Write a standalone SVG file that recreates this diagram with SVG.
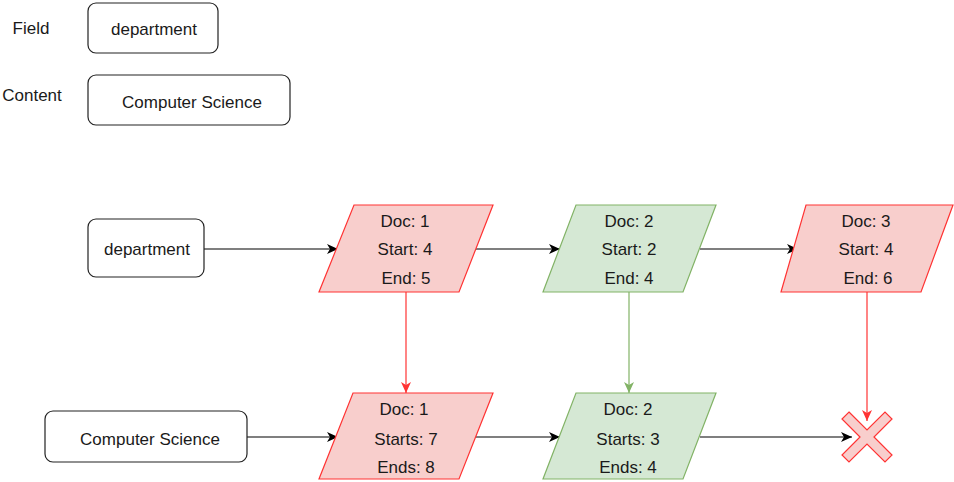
<svg xmlns="http://www.w3.org/2000/svg" width="954" height="482" viewBox="0 0 954 482">
  <style>
    text { font-family: "Liberation Sans", Arial, sans-serif; font-size: 17px; fill: #1a1a1a; text-anchor: middle; dominant-baseline: central; }
    .box { fill: #fff; stroke: #222; stroke-width: 1.2; }
    .red { fill: #f8cecc; stroke: #ff3333; stroke-width: 1.2; }
    .green { fill: #d5e8d4; stroke: #82b366; stroke-width: 1.2; }
    .edge { fill: none; stroke: #000; stroke-width: 1.2; }
    .edge-red { fill: none; stroke: #ff3333; stroke-width: 1.2; }
    .edge-green { fill: none; stroke: #82b366; stroke-width: 1.2; }
  </style>
  <defs>
    <marker id="arrow" markerUnits="userSpaceOnUse" markerWidth="12" markerHeight="10" refX="11" refY="5" orient="auto">
      <path d="M0,0 L11,5 L0,10 L3,5 z" fill="#000"/>
    </marker>
    <marker id="arrow-red" markerUnits="userSpaceOnUse" markerWidth="12" markerHeight="10" refX="11" refY="5" orient="auto">
      <path d="M0,0 L11,5 L0,10 L3,5 z" fill="#ff3333"/>
    </marker>
    <marker id="arrow-green" markerUnits="userSpaceOnUse" markerWidth="12" markerHeight="10" refX="11" refY="5" orient="auto">
      <path d="M0,0 L11,5 L0,10 L3,5 z" fill="#82b366"/>
    </marker>
  </defs>

  <!-- legend -->
  <g id="legend-field">
    <text x="31" y="28" style="text-anchor:middle">Field</text>
    <rect class="box" x="88" y="3" width="130" height="50" rx="8"/>
    <text x="154" y="29">department</text>
  </g>
  <g id="legend-content">
    <text x="32" y="95">Content</text>
    <rect class="box" x="88" y="75" width="202" height="50" rx="8"/>
    <text x="192" y="102">Computer Science</text>
  </g>

  <!-- connectors -->
  <g id="connectors">
    <line class="edge" x1="204" y1="249" x2="338" y2="249" marker-end="url(#arrow)"/>
    <line class="edge" x1="476" y1="249" x2="560" y2="249" marker-end="url(#arrow)"/>
    <line class="edge" x1="700" y1="249" x2="798" y2="249" marker-end="url(#arrow)"/>
    <line class="edge" x1="247" y1="437" x2="338" y2="437" marker-end="url(#arrow)"/>
    <line class="edge" x1="476" y1="437" x2="560" y2="437" marker-end="url(#arrow)"/>
    <line class="edge" x1="700" y1="437" x2="852" y2="437" marker-end="url(#arrow)"/>
    <line class="edge-red" x1="406" y1="292" x2="406" y2="393" marker-end="url(#arrow-red)"/>
    <line class="edge-green" x1="629" y1="292" x2="629" y2="393" marker-end="url(#arrow-green)"/>
    <line class="edge-red" x1="867" y1="292" x2="867" y2="421" marker-end="url(#arrow-red)"/>
  </g>

  <!-- field row -->
  <g id="field-department">
    <rect class="box" x="88" y="219" width="116" height="58" rx="8"/>
    <text x="147" y="249">department</text>
  </g>
  <g id="field-doc1">
    <polygon class="red" points="354,205 493,205 459,292 319,292"/>
    <text x="405" y="221">Doc: 1</text>
    <text x="405" y="249">Start: 4</text>
    <text x="406" y="278">End: 5</text>
  </g>
  <g id="field-doc2">
    <polygon class="green" points="576,205 716,205 683,292 543,292"/>
    <text x="629" y="221">Doc: 2</text>
    <text x="629" y="249">Start: 2</text>
    <text x="629" y="278">End: 4</text>
  </g>
  <g id="field-doc3">
    <polygon class="red" points="806,205 953,205 921,292 781,292"/>
    <text x="866" y="221">Doc: 3</text>
    <text x="866" y="249">Start: 4</text>
    <text x="868" y="278">End: 6</text>
  </g>

  <!-- content row -->
  <g id="content-cs">
    <rect class="box" x="45" y="411" width="202" height="51" rx="8"/>
    <text x="150" y="439">Computer Science</text>
  </g>
  <g id="content-doc1">
    <polygon class="red" points="353,393 493,393 459,479 319,479"/>
    <text x="404" y="409">Doc: 1</text>
    <text x="406" y="439">Starts: 7</text>
    <text x="406" y="467">Ends: 8</text>
  </g>
  <g id="content-doc2">
    <polygon class="green" points="576,393 716,393 683,479 543,479"/>
    <text x="628" y="409">Doc: 2</text>
    <text x="628" y="439">Starts: 3</text>
    <text x="628" y="467">Ends: 4</text>
  </g>
  <g id="no-match">
    <polygon class="red" points="849,412 867,430 885,412 892,419 874,437 892,455 885,462 867,444 849,462 842,455 860,437 842,419"/>
  </g>
</svg>
